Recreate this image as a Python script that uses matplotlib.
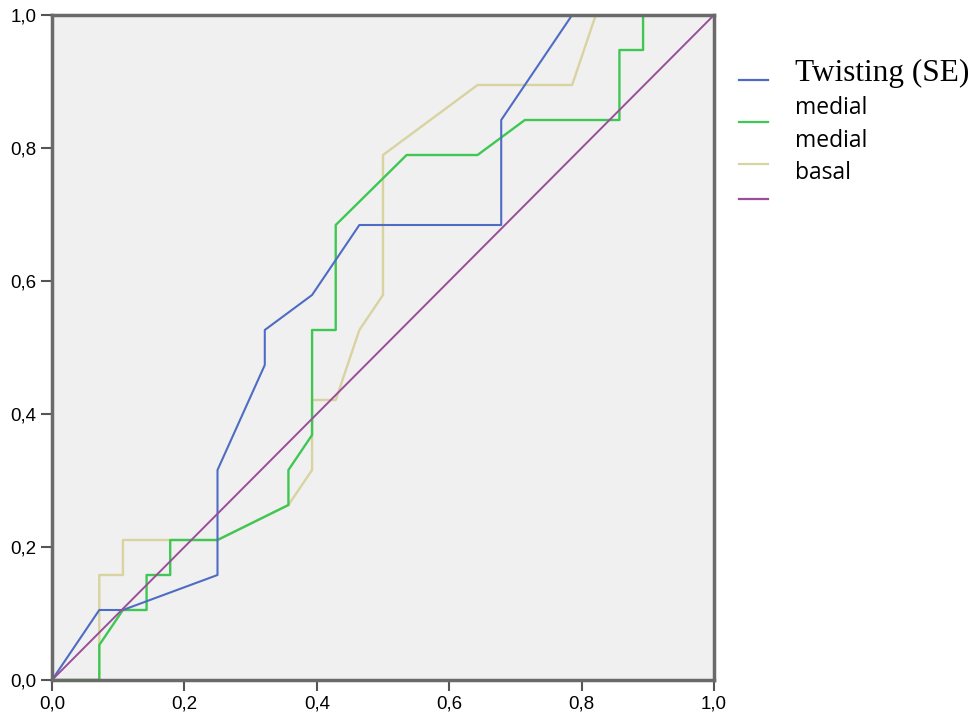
import matplotlib.pyplot as plt
from matplotlib.lines import Line2D
from matplotlib.ticker import FuncFormatter

# ROC curves: 28 negatives, 19 positives
n_neg = 28
n_pos = 19

twisting_fp = [0, 2, 3, 7, 7, 9, 9, 11, 13, 19, 19, 22, 28]
twisting_tp = [0, 2, 2, 3, 6, 9, 10, 11, 13, 13, 16, 19, 19]

medial_fp = [0, 2, 2, 3, 4, 4, 5, 5, 7, 10, 10, 11, 11, 12, 12, 15, 18, 20, 24, 24, 25, 25, 28]
medial_tp = [0, 0, 1, 2, 2, 3, 3, 4, 4, 5, 6, 7, 10, 10, 13, 15, 15, 16, 16, 18, 18, 19, 19]

basal_fp = [0, 2, 2, 3, 3, 7, 10, 11, 11, 12, 13, 14, 14, 18, 22, 23, 28]
basal_tp = [0, 0, 3, 3, 4, 4, 5, 6, 8, 8, 10, 11, 15, 17, 17, 19, 19]

ref_x = [0, 1]
ref_y = [0, 1]

labels = ["Twisting (SE)", "medial", "medial", "basal"]
colors = ["#4f6cc4", "#3ec853", "#d8d3a0", "#9a4e9a"]

fig = plt.figure(figsize=(9.73, 7.15), dpi=100)
ax = fig.add_axes([52 / 973, 1 - 680 / 715, 662 / 973, 665 / 715])
ax.set_facecolor("#f0f0f0")

ax.plot([v / n_neg for v in basal_fp], [v / n_pos for v in basal_tp], color=colors[2], lw=1.7)
ax.plot([v / n_neg for v in medial_fp], [v / n_pos for v in medial_tp], color=colors[1], lw=1.7)
ax.plot([v / n_neg for v in twisting_fp], [v / n_pos for v in twisting_tp], color=colors[0], lw=1.5)
ax.plot(ref_x, ref_y, color=colors[3], lw=1.4)

ax.set_xlim(0, 1)
ax.set_ylim(0, 1)
ticks = [0, 0.2, 0.4, 0.6, 0.8, 1.0]
ax.set_xticks(ticks)
ax.set_yticks(ticks)
fmt = FuncFormatter(lambda v, p: f"{v:.1f}".replace(".", ","))
ax.xaxis.set_major_formatter(fmt)
ax.yaxis.set_major_formatter(fmt)
ax.tick_params(length=8, width=1.5, color="#555555", labelsize=13.5, pad=3)
for lab in ax.get_xticklabels() + ax.get_yticklabels():
    lab.set_fontfamily("Liberation Sans")
for s in ax.spines.values():
    s.set_color("#6a6a6a")
    s.set_linewidth(2.5)

# legend drawn by hand (entries are offset from their labels)
line_y = [80, 122, 164, 199]
for c, y in zip(colors, line_y):
    fig.add_artist(Line2D([739 / 973, 768 / 973], [1 - y / 715, 1 - y / 715],
                          color=c, lw=1.6, transform=fig.transFigure))

fig.text(795 / 973, 1 - 73 / 715, labels[0], fontsize=22.5, family="Liberation Serif", va="center")
text_y = [108, 141, 173]
for lab, y in zip(labels[1:], text_y):
    fig.text(795 / 973, 1 - y / 715, lab, fontsize=16.5, family="Open Sans", va="center")

fig.savefig("out.png", dpi=100)
